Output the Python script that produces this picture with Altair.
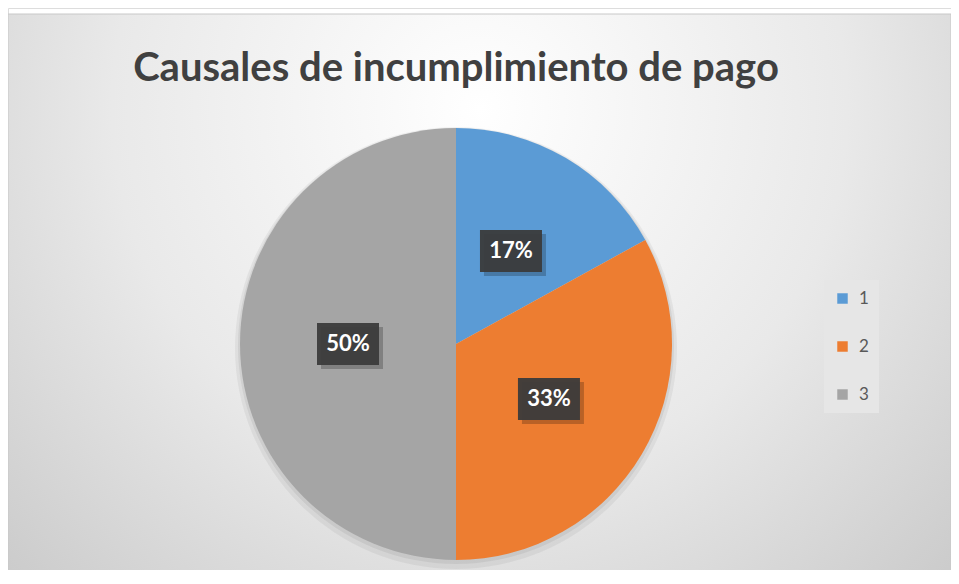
import altair as alt
import pandas as pd

# Data
categories = ["1", "2", "3"]
shares = [17, 33, 50]          # percent labels shown on the slices
labels = ["17%", "33%", "50%"]
colors = ["#5B9BD5", "#ED7D31", "#A5A5A5"]
title_text = "Causales de incumplimiento de pago"

W, H = 943, 562
CX, CY, R = 448, 336, 216
LR = 108  # label radius

df = pd.DataFrame({"cat": categories, "v": shares, "lab": labels})

bg = alt.Chart(pd.DataFrame({"a": [0]})).mark_rect(
    fill=alt.RadialGradient(
        gradient="radial",
        x1=0.5, y1=0.3, r1=0.0,
        x2=0.5, y2=0.3, r2=0.78,
        stops=[alt.GradientStop(color="#ffffff", offset=0),
               alt.GradientStop(color="#e9e9e9", offset=0.5),
               alt.GradientStop(color="#c4c4c4", offset=1)],
    ),
    stroke="#c8c8c8", strokeWidth=1,
).encode(x=alt.value(0), x2=alt.value(W), y=alt.value(6), y2=alt.value(H + 10))

shadow = alt.Chart(pd.DataFrame({"a": [0]})).mark_arc(
    outerRadius=R + 5, color="#000000", opacity=0.05
).encode(theta=alt.value(0), theta2=alt.value(6.2832), x=alt.value(CX), y=alt.value(CY + 4))

shadow2 = alt.Chart(pd.DataFrame({"a": [0]})).mark_arc(
    outerRadius=R + 2, color="#000000", opacity=0.06
).encode(theta=alt.value(0), theta2=alt.value(6.2832), x=alt.value(CX), y=alt.value(CY + 2))

pie = alt.Chart(df).mark_arc(outerRadius=R).encode(
    theta=alt.Theta("v:Q", stack=True),
    order=alt.Order("cat:N", sort="ascending"),
    color=alt.Color(
        "cat:N",
        scale=alt.Scale(domain=categories, range=colors),
        legend=alt.Legend(
            title=None, orient="none", legendX=816, legendY=272,
            symbolType="square", symbolSize=110, symbolStrokeWidth=0,
            labelFontSize=17, labelColor="#595959", labelFont="Lato",
            rowPadding=30, fillColor="#e6e6e6", padding=10, labelOffset=8,
        ),
    ),
    x=alt.value(CX), y=alt.value(CY),
)

pos = alt.Chart(df).transform_joinaggregate(
    total="sum(v)"
).transform_window(
    cum="sum(v)", sort=[alt.SortField("cat", order="ascending")]
).transform_calculate(
    mid="(datum.cum - datum.v / 2) / datum.total * 2 * PI",
).transform_calculate(
    px=f"{CX} + {LR} * sin(datum.mid)",
    py=f"{CY} - {LR} * cos(datum.mid)",
).transform_calculate(
    bx1="datum.px - 31", bx2="datum.px + 31",
    by1="datum.py - 21", by2="datum.py + 21",
    sx1="datum.px - 27", sx2="datum.px + 35",
    sy1="datum.py - 17", sy2="datum.py + 25",
)

box_shadow = pos.mark_rect(color="#000000", opacity=0.22).encode(
    x=alt.X("sx1:Q", scale=None), x2="sx2:Q",
    y=alt.Y("sy1:Q", scale=None), y2="sy2:Q",
)
box = pos.mark_rect(color="#3b3b3b", opacity=0.95).encode(
    x=alt.X("bx1:Q", scale=None), x2="bx2:Q",
    y=alt.Y("by1:Q", scale=None), y2="by2:Q",
)
txt = pos.mark_text(
    color="#ffffff", font="Lato", fontWeight="bold", fontSize=22,
    align="center", baseline="middle",
).encode(
    x=alt.X("px:Q", scale=None), y=alt.Y("py:Q", scale=None), text="lab:N"
)

title = alt.Chart(pd.DataFrame({"t": [title_text]})).mark_text(
    font="Lato", fontWeight="bold", fontSize=40, color="#404040",
    align="center", baseline="alphabetic",
).encode(x=alt.value(CX), y=alt.value(73), text="t:N")

chart = alt.layer(bg, title, shadow, shadow2, pie, box_shadow, box, txt).properties(
    width=W, height=H, padding=0,
    autosize=alt.AutoSizeParams(type="none"),
).configure_view(stroke=None).configure(background="#ffffff")

chart.save("out.html", embed_options={"renderer": "svg", "actions": False})
